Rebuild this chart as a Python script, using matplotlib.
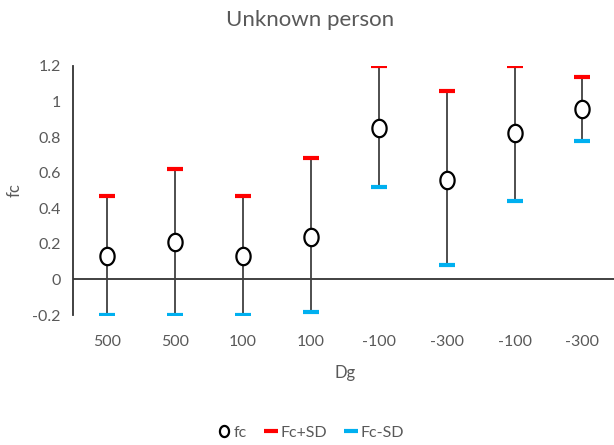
import matplotlib.pyplot as plt
import numpy as np
from matplotlib.lines import Line2D
from matplotlib.path import Path

# Dati
categorie = ["500", "500", "100", "100", "-100", "-300", "-100", "-300"]
fc = [0.13, 0.21, 0.13, 0.24, 0.85, 0.56, 0.82, 0.96]
fc_piu_sd = [0.47, 0.62, 0.47, 0.68, 1.20, 1.06, 1.20, 1.14]
fc_meno_sd = [-0.20, -0.20, -0.20, -0.18, 0.52, 0.08, 0.44, 0.78]

plt.rcParams['font.family'] = ['Lato', 'DejaVu Sans']

# Marker ellittico (il cerchio nel riferimento e' un po' schiacciato)
t = np.linspace(0, 2 * np.pi, 60)
ellisse = Path(np.column_stack([0.82 * np.cos(t), np.sin(t)]), closed=True)

fig = plt.figure(figsize=(6.14, 4.45), dpi=100)
ax = fig.add_axes([0.119, 0.292, 0.885, 0.56])

x = np.arange(len(categorie))
grigio = "#595959"

# Linee verticali tra Fc-SD e Fc+SD
ax.vlines(x, fc_meno_sd, fc_piu_sd, color="#404040", linewidth=1.3, zorder=2)

# Cappucci superiori e inferiori
ax.plot(x, fc_piu_sd, linestyle="none", marker="_", markersize=12,
        markeredgewidth=3, color="#FF0000", zorder=3)
ax.plot(x, fc_meno_sd, linestyle="none", marker="_", markersize=12,
        markeredgewidth=3, color="#00B0F0", zorder=3)

# Punti fc
ax.plot(x, fc, linestyle="none", marker=ellisse, markersize=12.5,
        markerfacecolor="white", markeredgecolor="black", markeredgewidth=1.6, zorder=4)

ax.axhline(0, color="#333333", linewidth=1.3, zorder=1)

ax.set_xlim(-0.5, len(categorie) - 0.5)
ax.set_ylim(-0.2, 1.2)
ax.set_yticks([-0.2, 0, 0.2, 0.4, 0.6, 0.8, 1, 1.2])
ax.set_yticklabels(["-0.2", "0", "0.2", "0.4", "0.6", "0.8", "1", "1.2"])
ax.set_xticks(x)
ax.set_xticklabels(categorie)
ax.tick_params(axis="both", length=0, labelsize=11.5, colors=grigio, pad=9)
ax.tick_params(axis="x", pad=14)

for lato in ["top", "right", "bottom"]:
    ax.spines[lato].set_visible(False)
ax.spines["left"].set_color("#333333")
ax.spines["left"].set_linewidth(1.3)

ax.set_xlabel("Dg", fontsize=12, color=grigio, labelpad=12)
ax.set_ylabel("fc", fontsize=12, color=grigio, labelpad=7)
fig.text(0.505, 0.955, "Unknown person", ha="center", va="center",
         fontsize=16, color=grigio)

# Legenda
elementi = [
    Line2D([], [], linestyle="none", marker=ellisse, markersize=8, markerfacecolor="white",
           markeredgecolor="black", markeredgewidth=1.6, label="fc"),
    Line2D([], [], linestyle="none", marker="_", markersize=10, markeredgewidth=3,
           color="#FF0000", label="Fc+SD"),
    Line2D([], [], linestyle="none", marker="_", markersize=10, markeredgewidth=3,
           color="#00B0F0", label="Fc-SD"),
]
fig.legend(handles=elementi, loc="center", bbox_to_anchor=(0.505, 0.027), ncol=3,
           frameon=False, fontsize=11.5, handletextpad=0.1, columnspacing=1.0,
           handlelength=1.0, labelcolor=grigio)

fig.savefig("out.png", dpi=100)
